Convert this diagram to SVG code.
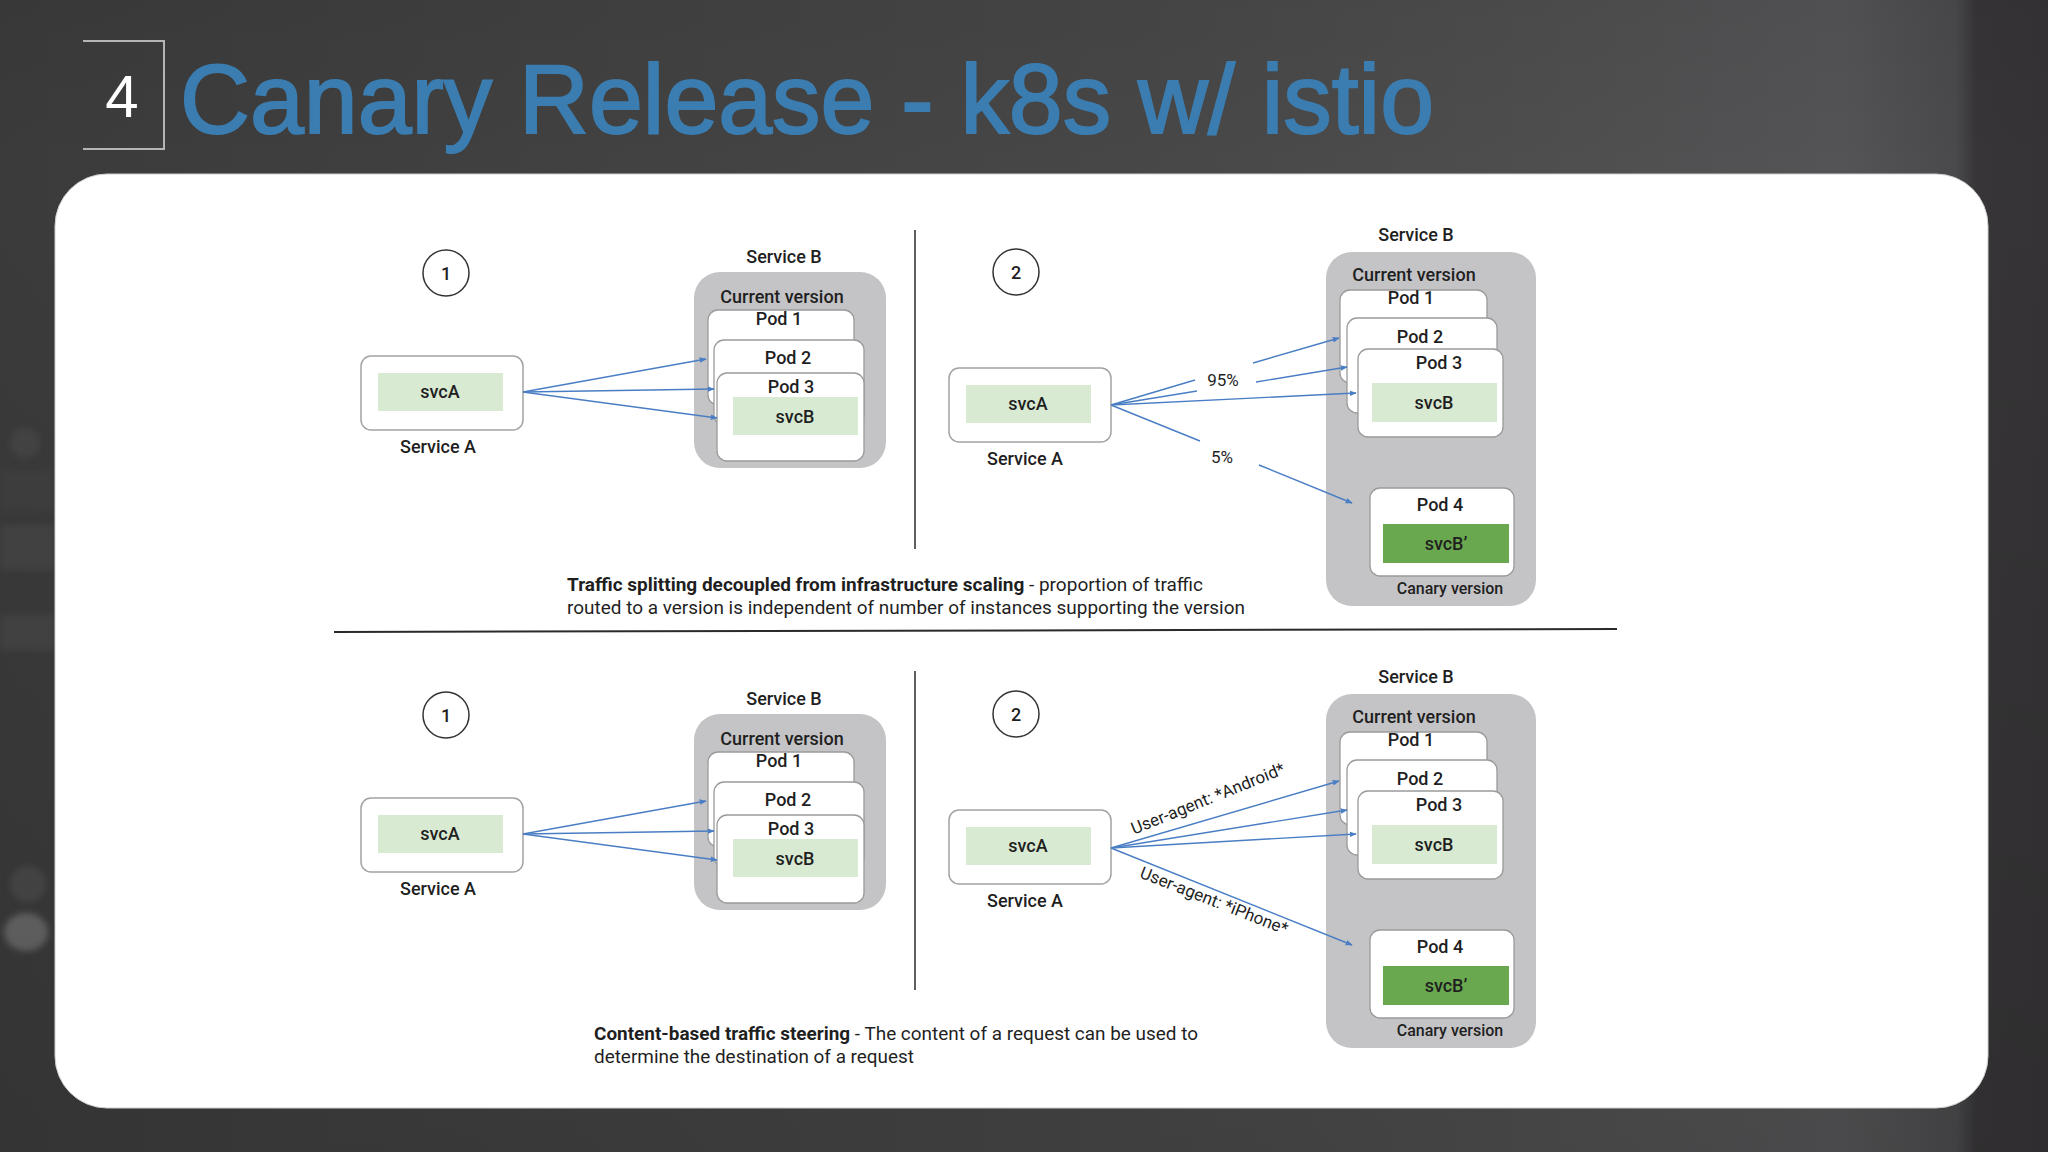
<svg xmlns="http://www.w3.org/2000/svg" width="2048" height="1152" viewBox="0 0 2048 1152">
<defs>
<linearGradient id="bg" x1="0" y1="0" x2="1" y2="0">
<stop offset="0" stop-color="#3b3b3b"/>
<stop offset="0.55" stop-color="#474747"/>
<stop offset="0.9" stop-color="#545355"/>
<stop offset="0.955" stop-color="#4a494b"/>
<stop offset="0.965" stop-color="#373537"/>
<stop offset="1" stop-color="#353335"/>
</linearGradient>
<linearGradient id="bgv" x1="0" y1="0" x2="0" y2="1">
<stop offset="0" stop-color="#000" stop-opacity="0.05"/>
<stop offset="0.15" stop-color="#000" stop-opacity="0"/>
<stop offset="1" stop-color="#000" stop-opacity="0.12"/>
</linearGradient>
<marker id="ah" viewBox="0 0 10 10" refX="9" refY="5" markerWidth="7" markerHeight="7" markerUnits="userSpaceOnUse" orient="auto">
<path d="M0,1 L10,5 L0,9 z" fill="#4a7ec4"/>
</marker>
<filter id="blur" x="-50%" y="-50%" width="200%" height="200%"><feGaussianBlur stdDeviation="3"/></filter>
</defs>
<style>
text{font-family:Roboto,"Liberation Sans",sans-serif;fill:#1f1f1f}
.lbl{font-size:18px;font-weight:500;text-anchor:middle}
.sm{font-size:16px;font-weight:500;text-anchor:middle}
.pct{font-size:17px;text-anchor:middle}
.cap{font-size:19px}
.box{fill:#fff;stroke:#a3a3a3;stroke-width:1.5}
.pod{fill:#fff;stroke:#9a9a9a;stroke-width:1.3}
.grp{fill:#c4c4c6}
.lg{fill:#d9ead3}
.dg{fill:#6aa84f}
.num{fill:#fff;stroke:#333;stroke-width:1.5}
.arr{stroke:#4a7ec4;stroke-width:1.4;fill:none;marker-end:url(#ah)}
.seg{stroke:#4a7ec4;stroke-width:1.4;fill:none}
.div{stroke:#2a2a2a;stroke-width:1.5}
</style>

<rect width="2048" height="1152" fill="url(#bg)"/>
<rect width="2048" height="1152" fill="url(#bgv)"/>
<g filter="url(#blur)" opacity="0.6">
<circle cx="25" cy="443" r="15" fill="#4a4a4a"/>
<rect x="0" y="470" width="55" height="40" fill="#3f3f3f"/>
<rect x="0" y="525" width="55" height="45" fill="#474747"/>
<rect x="0" y="615" width="55" height="35" fill="#474747"/>
<circle cx="28" cy="884" r="18" fill="#4c4c4c"/>
<ellipse cx="26" cy="932" rx="22" ry="19" fill="#777"/>
</g>

<!-- title -->
<g id="title">
<path d="M83,41 H164 V149 H83" fill="none" stroke="#b5b5b5" stroke-width="2"/>
<text x="122" y="117" text-anchor="middle" style="font-family:'Liberation Sans',Arial,sans-serif;font-size:60px;fill:#fff">4</text>
<text x="180" y="133" textLength="1254" lengthAdjust="spacingAndGlyphs" style="font-family:'Liberation Sans',Arial,sans-serif;font-size:98px;fill:#3b7db0;stroke:#3b7db0;stroke-width:2">Canary Release - k8s w/ istio</text>
</g>

<!-- white panel -->
<rect x="55" y="174" width="1933" height="934" rx="52" fill="#fff" stroke="#cfcfcf" stroke-width="1"/>

<!-- dividers -->
<g id="dividers">
<line class="div" x1="915" y1="230" x2="915" y2="549"/>
<line class="div" x1="334" y1="632" x2="1617" y2="629" style="stroke-width:2"/>
<line class="div" x1="915" y1="671" x2="915" y2="990"/>
</g>

<!-- ===== TOP LEFT (1) ===== -->
<g id="t1-num"><circle class="num" cx="446" cy="273" r="23"/><text class="lbl" x="446" y="280">1</text></g>
<g id="t1-serviceA">
<rect class="box" x="361" y="356" width="162" height="74" rx="10"/>
<rect class="lg" x="378" y="373" width="125" height="38"/>
<text class="lbl" x="440" y="398">svcA</text>
<text class="lbl" x="438" y="453">Service A</text>
</g>
<g id="t1-serviceB">
<text class="lbl" x="784" y="263">Service B</text>
<rect class="grp" x="694" y="272" width="192" height="196" rx="26"/>
<text class="lbl" x="782" y="303">Current version</text>
<rect class="pod" x="708" y="310" width="146" height="95" rx="10"/>
<text class="lbl" x="779" y="325">Pod 1</text>
<rect class="pod" x="714" y="340" width="150" height="85" rx="10"/>
<text class="lbl" x="788" y="364">Pod 2</text>
<rect class="pod" x="717" y="373" width="147" height="88" rx="10"/>
<text class="lbl" x="791" y="393">Pod 3</text>
<rect class="lg" x="733" y="397" width="125" height="38"/>
<text class="lbl" x="795" y="423">svcB</text>
</g>

<!-- ===== TOP RIGHT (2) ===== -->
<g id="t2-num"><circle class="num" cx="1016" cy="272" r="23"/><text class="lbl" x="1016" y="279">2</text></g>
<g id="t2-serviceA">
<rect class="box" x="949" y="368" width="162" height="74" rx="10"/>
<rect class="lg" x="966" y="385" width="125" height="38"/>
<text class="lbl" x="1028" y="410">svcA</text>
<text class="lbl" x="1025" y="465">Service A</text>
</g>
<g id="t2-serviceB">
<text class="lbl" x="1416" y="241">Service B</text>
<rect class="grp" x="1326" y="252" width="210" height="354" rx="26"/>
<text class="lbl" x="1414" y="281">Current version</text>
<rect class="pod" x="1340" y="290" width="147" height="93" rx="10"/>
<text class="lbl" x="1411" y="304">Pod 1</text>
<rect class="pod" x="1347" y="318" width="150" height="95" rx="10"/>
<text class="lbl" x="1420" y="343">Pod 2</text>
<rect class="pod" x="1358" y="349" width="145" height="88" rx="10"/>
<text class="lbl" x="1439" y="369">Pod 3</text>
<rect class="lg" x="1372" y="383" width="125" height="39"/>
<text class="lbl" x="1434" y="409">svcB</text>
<rect class="pod" x="1370" y="488" width="144" height="88" rx="10"/>
<text class="lbl" x="1440" y="511">Pod 4</text>
<rect class="dg" x="1383" y="524" width="126" height="39"/>
<text class="lbl" x="1446" y="550">svcB’</text>
<text class="sm" x="1450" y="594">Canary version</text>
</g>

<!-- ===== BOTTOM LEFT (1) ===== -->
<g id="b1-num"><circle class="num" cx="446" cy="715" r="23"/><text class="lbl" x="446" y="722">1</text></g>
<g id="b1-serviceA">
<rect class="box" x="361" y="798" width="162" height="74" rx="10"/>
<rect class="lg" x="378" y="815" width="125" height="38"/>
<text class="lbl" x="440" y="840">svcA</text>
<text class="lbl" x="438" y="895">Service A</text>
</g>
<g id="b1-serviceB">
<text class="lbl" x="784" y="705">Service B</text>
<rect class="grp" x="694" y="714" width="192" height="196" rx="26"/>
<text class="lbl" x="782" y="745">Current version</text>
<rect class="pod" x="708" y="752" width="146" height="95" rx="10"/>
<text class="lbl" x="779" y="767">Pod 1</text>
<rect class="pod" x="714" y="782" width="150" height="85" rx="10"/>
<text class="lbl" x="788" y="806">Pod 2</text>
<rect class="pod" x="717" y="815" width="147" height="88" rx="10"/>
<text class="lbl" x="791" y="835">Pod 3</text>
<rect class="lg" x="733" y="839" width="125" height="38"/>
<text class="lbl" x="795" y="865">svcB</text>
</g>

<!-- ===== BOTTOM RIGHT (2) ===== -->
<g id="b2-num"><circle class="num" cx="1016" cy="714" r="23"/><text class="lbl" x="1016" y="721">2</text></g>
<g id="b2-serviceA">
<rect class="box" x="949" y="810" width="162" height="74" rx="10"/>
<rect class="lg" x="966" y="827" width="125" height="38"/>
<text class="lbl" x="1028" y="852">svcA</text>
<text class="lbl" x="1025" y="907">Service A</text>
</g>
<g id="b2-serviceB">
<text class="lbl" x="1416" y="683">Service B</text>
<rect class="grp" x="1326" y="694" width="210" height="354" rx="26"/>
<text class="lbl" x="1414" y="723">Current version</text>
<rect class="pod" x="1340" y="732" width="147" height="93" rx="10"/>
<text class="lbl" x="1411" y="746">Pod 1</text>
<rect class="pod" x="1347" y="760" width="150" height="95" rx="10"/>
<text class="lbl" x="1420" y="785">Pod 2</text>
<rect class="pod" x="1358" y="791" width="145" height="88" rx="10"/>
<text class="lbl" x="1439" y="811">Pod 3</text>
<rect class="lg" x="1372" y="825" width="125" height="39"/>
<text class="lbl" x="1434" y="851">svcB</text>
<rect class="pod" x="1370" y="930" width="144" height="88" rx="10"/>
<text class="lbl" x="1440" y="953">Pod 4</text>
<rect class="dg" x="1383" y="966" width="126" height="39"/>
<text class="lbl" x="1446" y="992">svcB’</text>
<text class="sm" x="1450" y="1036">Canary version</text>
</g>

<!-- connectors -->
<g id="connectors">
<line class="arr" x1="523" y1="392" x2="706" y2="359"/>
<line class="arr" x1="523" y1="392" x2="714" y2="389"/>
<line class="arr" x1="523" y1="392" x2="717" y2="418"/>

<line class="seg" x1="1111" y1="405" x2="1195" y2="380"/>
<line class="arr" x1="1253" y1="363" x2="1339" y2="338"/>
<line class="seg" x1="1111" y1="405" x2="1197" y2="391"/>
<line class="arr" x1="1256" y1="382" x2="1347" y2="367"/>
<line class="arr" x1="1111" y1="405" x2="1356" y2="393"/>
<line class="seg" x1="1111" y1="405" x2="1200" y2="441"/>
<line class="arr" x1="1259" y1="465" x2="1352" y2="503"/>

<line class="arr" x1="523" y1="834" x2="706" y2="801"/>
<line class="arr" x1="523" y1="834" x2="714" y2="831"/>
<line class="arr" x1="523" y1="834" x2="717" y2="860"/>

<line class="arr" x1="1111" y1="848" x2="1339" y2="781"/>
<line class="arr" x1="1111" y1="848" x2="1347" y2="810"/>
<line class="arr" x1="1111" y1="848" x2="1356" y2="834"/>
<line class="arr" x1="1111" y1="848" x2="1352" y2="945"/>

<text class="pct" x="1223" y="386">95%</text>
<text class="pct" x="1222" y="463">5%</text>
<text class="pct" transform="translate(1210,804) rotate(-22)" x="0" y="0">User-agent: *Android*</text>
<text class="pct" transform="translate(1212,906) rotate(21.5)" x="0" y="0">User-agent: *iPhone*</text>
</g>

<!-- captions -->
<g id="captions">
<text class="cap" x="567" y="591" textLength="636" lengthAdjust="spacingAndGlyphs"><tspan font-weight="700">Traffic splitting decoupled from infrastructure scaling</tspan> - proportion of traffic</text>
<text class="cap" x="567" y="614" textLength="678" lengthAdjust="spacingAndGlyphs">routed to a version is independent of number of instances supporting the version</text>
<text class="cap" x="594" y="1040" textLength="604" lengthAdjust="spacingAndGlyphs"><tspan font-weight="700">Content-based traffic steering</tspan> - The content of a request can be used to</text>
<text class="cap" x="594" y="1063" textLength="320" lengthAdjust="spacingAndGlyphs">determine the destination of a request</text>
</g>
</svg>
